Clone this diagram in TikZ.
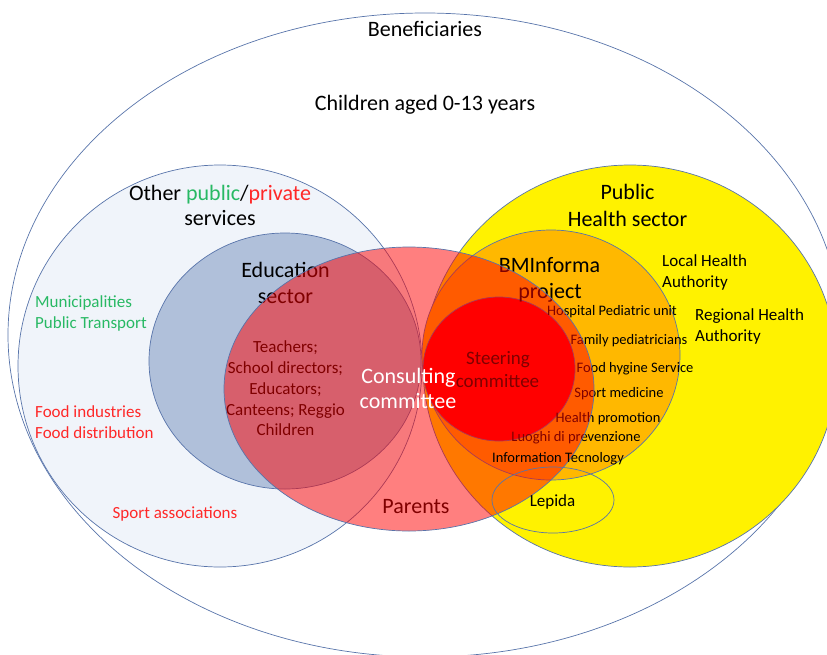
\documentclass[tikz,border=0pt]{standalone}
\usepackage{fontspec}
\setmainfont{Carlito}
\usepackage{tikz}
\usetikzlibrary{positioning}
\definecolor{rim}{RGB}{88,116,170}
\definecolor{svcfill}{RGB}{240,244,250}
\definecolor{edufill}{RGB}{176,192,218}
\definecolor{bmorange}{RGB}{255,184,0}
\definecolor{pubgreen}{RGB}{40,185,100}
\definecolor{privred}{RGB}{255,40,40}
\tikzstyle{zone}  = [draw=rim, line width=0.7pt]
\tikzstyle{big}   = [font=\fontsize{22}{26}\selectfont, inner sep=0pt, anchor=base]
\tikzstyle{mid}   = [font=\fontsize{17}{20}\selectfont, inner sep=0pt, anchor=base]
\tikzstyle{small} = [font=\fontsize{14.5}{17}\selectfont, inner sep=0pt, anchor=base]

\begin{document}
\begin{tikzpicture}[
			x=1pt,y=-1pt,
			lefttext/.style={mid,anchor=base west},
			consult/.style={big,text=white}
		]
		\useasboundingbox (0,0) rectangle (827,654);

		\draw[zone] (425,335) ellipse [x radius=417pt,y radius=322pt];
		\draw[zone,fill=svcfill] (220,366) ellipse [x radius=202pt,y radius=201pt];
		\draw[zone,fill=edufill] (285,361) ellipse [x radius=136pt,y radius=128pt];
		\draw[zone,fill=yellow] (630,366) ellipse [x radius=207pt,y radius=201pt];
		\draw[zone,fill=bmorange] (551,355) ellipse [x radius=129pt,y radius=125pt];
		\draw[zone,fill=red] (499,369) ellipse [x radius=76pt,y radius=72pt];

		\node[big] (edu1) at (285.5,277) {Education};
		\node[big] (edu2) at (285.5,303) {sector};
		\node[big] (bmi1) at (549.5,272) {BMInforma};
		\node[big] (bmi2) at (550,298) {project};
		\node[mid,font=\fontsize{19}{22}\selectfont] (steer1) at (498,364) {Steering};
		\node[mid,font=\fontsize{19}{22}\selectfont] (steer2) at (497.5,387) {committee};
		\node[big] (parents) at (416,513) {Parents};
		\foreach \t/\y in {Teachers;/352,School directors;/373,Educators;/394,Canteens; Reggio/415,Children/435}
			\node[mid] (teach-\y) at (285.5,\y) {\t};
		\foreach \t/\x/\y in {Hospital Pediatric unit/612/315,Family pediatricians/629/344,Food hygine Service/635/372,Sport medicine/619/397,Health promotion/608/422,Luoghi di prevenzione/576/441}
			\node[small] (health-\y) at (\x,\y) {\t};

		\draw[zone,fill=red,fill opacity=0.5] (409,389) ellipse [x radius=185pt,y radius=142pt];

		\node[consult] (cons1) at (408.5,383) {Consulting};
		\node[consult] (cons2) at (408,408) {committee};
		\node[small] (infotec) at (558,462) {Information Tecnology};
		\draw[zone] (553,500) ellipse [x radius=61pt,y radius=33pt];
		\node[mid] (lepida) at (552.5,506) {Lepida};

		\node[big] (benef) at (425,36) {Beneficiaries};
		\node[big] (children) at (425,110) {Children aged 0-13 years};
		\node[big] (other) at (220,200) {Other \textcolor{pubgreen}{public}/\textcolor{privred}{private}};
		\node[big] (services) at (220,225) {services};
		\node[big] (pub1) at (627.5,199) {Public};
		\node[big] (pub2) at (627.5,226) {Health sector};
		\node[lefttext] (local1) at (662,266) {Local Health};
		\node[lefttext] (local2) at (662,287) {Authority};
		\node[lefttext] (region1) at (695,320) {Regional Health};
		\node[lefttext] (region2) at (695,341) {Authority};
		\node[lefttext,text=pubgreen] (munic) at (35,307) {Municipalities};
		\node[lefttext,text=pubgreen] (transp) at (35,328) {Public Transport};
		\node[lefttext,text=privred] (foodind) at (35,417) {Food industries};
		\node[lefttext,text=privred] (fooddist) at (35,438) {Food distribution};
		\node[mid,text=privred] (sport) at (175,518) {Sport associations};
	\end{tikzpicture}
\end{document}
